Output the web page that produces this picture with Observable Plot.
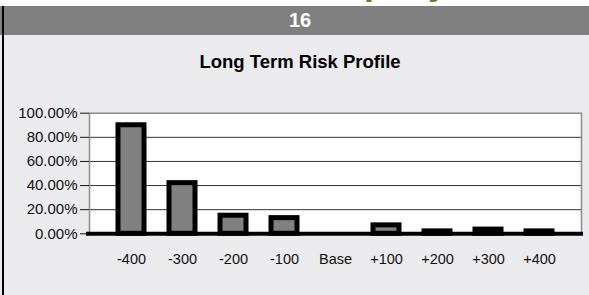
<!DOCTYPE html>
<html>
<head>
<meta charset="utf-8">
<script src="https://cdn.jsdelivr.net/npm/d3@7"></script>
<script src="https://cdn.jsdelivr.net/npm/@observablehq/plot@0.6"></script>
<style>
  html, body { margin: 0; padding: 0; }
  body { width: 589px; height: 295px; position: relative; overflow: hidden; background: #ffffff; font-family: "Liberation Sans", Arial, sans-serif; }
  #topclip { position: absolute; left: 0; top: 0; width: 589px; height: 6px; overflow: hidden; }
  #toptext { position: absolute; left: 284px; top: -36px; font-size: 36px; line-height: 36px; font-weight: bold; color: #6b7b2b; white-space: nowrap; }
  #header { position: absolute; left: 0; top: 6px; width: 589px; height: 29px; background: #808080; }
  #num { position: absolute; left: 0; width: 600px; top: 10.4px; font-size: 20px; line-height: 20px; font-weight: bold; color: #ffffff; text-align: center; }
  #panel { position: absolute; left: 0; top: 35px; width: 589px; height: 260px; background: #ebebed; }
  #border { position: absolute; left: 2px; top: 6px; width: 2px; height: 289px; background: #000; }
  #title { position: absolute; left: 0; width: 600px; top: 53.3px; font-size: 18.5px; line-height: 18.5px; font-weight: bold; color: #000; text-align: center; white-space: nowrap; }
  #chart { position: absolute; left: 0; top: 80px; }
</style>
</head>
<body>
<div id="topclip"><div id="toptext">Company</div></div>
<div id="header"></div>
<div id="num">16</div>
<div id="panel"></div>
<div id="border"></div>
<div id="title">Long Term Risk Profile</div>
<div id="chart"></div>
<script>
const categories = ["-400", "-300", "-200", "-100", "Base", "+100", "+200", "+300", "+400"];
const riskValues = [0.90, 0.42, 0.15, 0.13, 0, 0.07, 0.02, 0.035, 0.02];
const yTicks = [0, 0.2, 0.4, 0.6, 0.8, 1.0];
const gridTicks = [0.2, 0.4, 0.6, 0.8];

const data = categories.map((c, i) => ({shift: c, risk: riskValues[i]}));

const chart = Plot.plot({
  width: 589,
  height: 215,
  marginLeft: 89,
  marginRight: 8,
  marginTop: 32.7,
  marginBottom: 61.7,
  style: {
    fontFamily: "Liberation Sans, Arial, sans-serif",
    fontSize: "15px",
    color: "#111",
    background: "transparent",
    overflow: "visible"
  },
  x: {domain: categories, padding: 0.5, label: null},
  y: {domain: [0, 1], label: null},
  marks: [
    Plot.frame({fill: "white"}),
    Plot.ruleY(gridTicks, {stroke: "#333", strokeWidth: 1}),
    Plot.frame({stroke: "#8c8c8c", strokeWidth: 1.5}),
    Plot.barY(data, {x: "shift", y: "risk", fill: "#808080", stroke: "black", strokeWidth: 5}),
    Plot.ruleY([0], {stroke: "black", strokeWidth: 4, insetLeft: -3, insetRight: -2}),
    Plot.axisY({ticks: yTicks, tickFormat: d3.format(".2%"), tickSize: 9, tickPadding: 3, label: null, fontSize: 15}),
    Plot.axisX({tickSize: 0, tickPadding: 19.7, label: null, fontSize: 14.5})
  ]
});
document.getElementById("chart").appendChild(chart);
</script>
</body>
</html>
